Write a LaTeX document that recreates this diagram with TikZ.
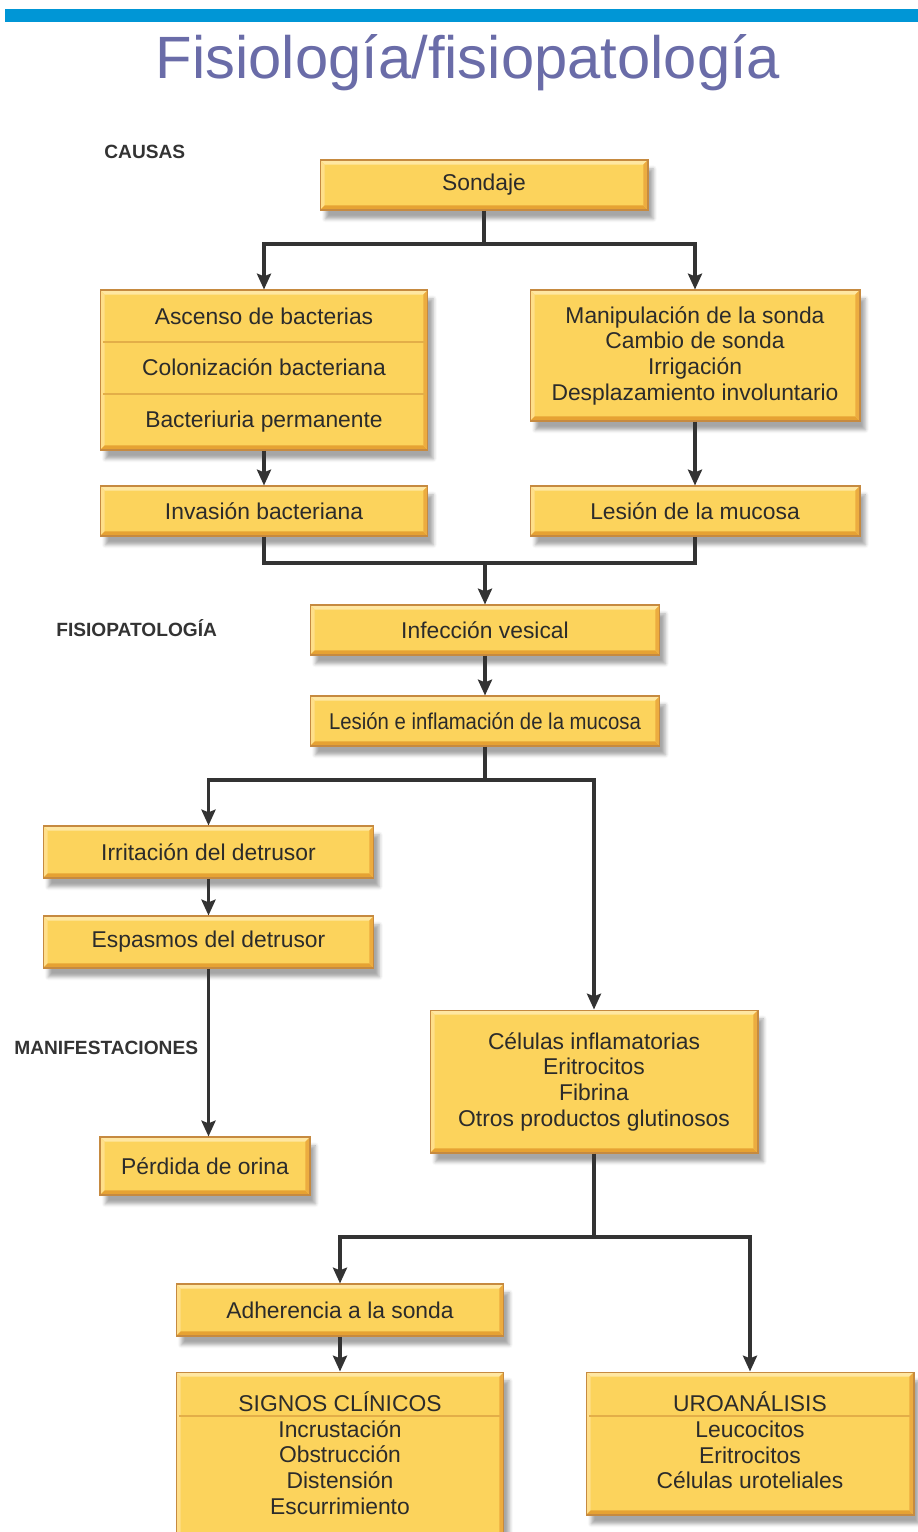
\documentclass[tikz,border=0pt]{standalone}
\usepackage{fontspec}
\setmainfont{Liberation Sans}
\usetikzlibrary{arrows.meta, shadows.blur}

\definecolor{barra}{HTML}{0096D6}
\definecolor{azultitulo}{HTML}{6A6CA8}
\definecolor{oro}{HTML}{FCD35C}
\definecolor{oroluz}{HTML}{FFE7A2}
\definecolor{orolado}{HTML}{FFDF8A}
\definecolor{orofondo}{HTML}{E6A233}
\definecolor{oroderecho}{HTML}{ECAC40}
\definecolor{borde}{HTML}{C68A40}
\definecolor{divisorio}{HTML}{E3AE48}
\definecolor{tinta}{HTML}{2B2B2B}
\definecolor{gris}{HTML}{333333}

\newcommand{\bisel}{2.6pt}

\tikzset{
  texto/.style={text=tinta, font=\fontsize{13}{14.6}\selectfont, align=center, inner sep=0pt},
  caja/.style={texto, draw=borde, fill=oro, line width=0.6pt,
    minimum width=6.56cm, minimum height=1cm,
    blur shadow={shadow xshift=3pt, shadow yshift=-5pt, shadow blur radius=2pt, shadow opacity=35},
    path picture={
      \path (path picture bounding box.north west) coordinate (pNW)
            (path picture bounding box.north east) coordinate (pNE)
            (path picture bounding box.south west) coordinate (pSW)
            (path picture bounding box.south east) coordinate (pSE);
      % bevelled edges
      \fill[oroluz] (pNW) -- (pNE) -- ([shift={(-\bisel,-\bisel)}]pNE) -- ([shift={(\bisel,-\bisel)}]pNW) -- cycle;
      \fill[orolado] (pNW) -- (pSW) -- ([shift={(\bisel,\bisel)}]pSW) -- ([shift={(\bisel,-\bisel)}]pNW) -- cycle;
      \fill[orofondo] (pSW) -- (pSE) -- ([shift={(-\bisel,\bisel)}]pSE) -- ([shift={(\bisel,\bisel)}]pSW) -- cycle;
      \fill[oroderecho] (pNE) -- (pSE) -- ([shift={(-\bisel,\bisel)}]pSE) -- ([shift={(-\bisel,-\bisel)}]pNE) -- cycle;
    }},
  etiqueta/.style={font=\fontsize{10.9}{12}\selectfont\bfseries, text=gris, anchor=west, inner sep=0pt},
  linea/.style={draw=gris, line width=2pt},
  flecha/.style={linea, -{Stealth[length=9pt,width=8pt,inset=1.5pt]}},
  divisor/.style={draw=divisorio, line width=0.6pt},
}

\begin{document}
\begin{tikzpicture}[x=0.02cm, y=-0.02cm]
\useasboundingbox (0,0) rectangle (918,1532);

% header
\fill[barra] (5,9) rectangle (918,22);
\node[font=\fontsize{34}{40}\selectfont, text=azultitulo, anchor=base] (titulo) at (468,78) {Fisiología/fisiopatología};

% section labels
\node[etiqueta] (causas) at (104,152) {CAUSAS};
\node[etiqueta] (fisio) at (56,628) {FISIOPATOLOGÍA};
\node[etiqueta] (manif) at (14,1048) {MANIFESTACIONES};

% causes
\node[caja] (sondaje) at (484,185) {Sondaje};
\node[caja, minimum height=3.2cm] (ascenso) at (264,370)
  {Ascenso de bacterias\\[14.9pt]Colonización bacteriana\\[14.9pt]Bacteriuria permanente};
\draw[divisor] (103,342) -- (425,342);
\draw[divisor] (103,394) -- (425,394);
\node[caja, minimum width=6.6cm, minimum height=2.62cm] (manip) at (695,355.5)
  {Manipulación de la sonda\\Cambio de sonda\\Irrigación\\Desplazamiento involuntario};
\node[caja] (invasion) at (264,511) {Invasión bacteriana};
\node[caja, minimum width=6.6cm] (lesmuc) at (695,511) {Lesión de la mucosa};

% pathophysiology
\node[caja, minimum width=7cm] (infeccion) at (485,630) {Infección vesical};
\node[caja, minimum width=7cm] (lesinfl) at (485,721) {\scalebox{0.89}[1]{Lesión e inflamación de la mucosa}};
\node[caja, minimum width=6.62cm, minimum height=1.04cm] (irrit) at (208.5,852) {Irritación del detrusor};
\node[caja, minimum width=6.62cm, minimum height=1.04cm] (espasmo) at (208.5,942) {Espasmos del detrusor};
\node[caja, minimum height=2.86cm] (celulas) at (594,1081.5)
  {Células inflamatorias\\Eritrocitos\\Fibrina\\Otros productos glutinosos};

% manifestations
\node[caja, minimum width=4.2cm, minimum height=1.16cm] (perdida) at (205,1166) {Pérdida de orina};
\node[caja, minimum height=1.04cm] (adher) at (340,1310) {Adherencia a la sonda};
\node[caja, minimum height=3.4cm] (signos) at (340,1457) {};
\node[texto] (signoslista) at (340,1453)
  {SIGNOS CLÍNICOS\\Incrustación\\Obstrucción\\Distensión\\Escurrimiento};
\draw[divisor] (179,1416) -- (501,1416);
\node[caja, minimum height=2.86cm] (uro) at (750,1443.5) {};
\node[texto] (urolista) at (750,1440.5)
  {UROANÁLISIS\\Leucocitos\\Eritrocitos\\Células uroteliales};
\draw[divisor] (589,1416) -- (911,1416);

% connectors
\coordinate (r1) at (484,244);
\draw[linea] (sondaje) -- (r1);
\draw[flecha] (r1) -| (ascenso);
\draw[flecha] (r1) -| (manip);
\draw[flecha] (ascenso) -- (invasion);
\draw[flecha] (manip) -- (lesmuc);

\coordinate (r2) at (485,563);
\draw[linea] (invasion) |- (r2) -| (lesmuc);
\draw[flecha] (r2) -- (infeccion);
\draw[flecha] (infeccion) -- (lesinfl);

\coordinate (r3) at (485,780);
\draw[linea] (lesinfl) -- (r3);
\draw[flecha] (r3) -| (irrit);
\draw[flecha] (r3) -| (celulas);
\draw[flecha] (irrit) -- (espasmo);
\draw[flecha] (espasmo) -- (espasmo |- perdida.north);

\coordinate (r4) at (594,1237);
\draw[linea] (celulas) -- (r4);
\draw[flecha] (r4) -| (adher);
\draw[flecha] (r4) -| (uro);
\draw[flecha] (adher) -- (signos);
\end{tikzpicture}
\end{document}
